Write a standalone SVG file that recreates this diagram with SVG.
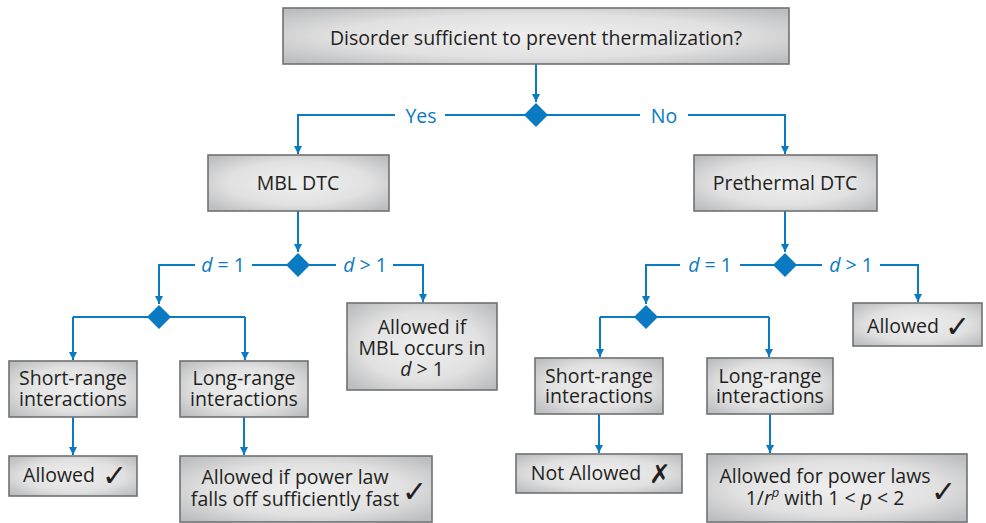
<svg xmlns="http://www.w3.org/2000/svg" width="986" height="523" viewBox="0 0 986 523">
<defs>
<radialGradient id="g" cx="50%" cy="50%" r="65%">
<stop offset="0" stop-color="#efeff0"/>
<stop offset="0.6" stop-color="#e1e1e2"/>
<stop offset="1" stop-color="#bdbebf"/>
</radialGradient>
<marker id="ar" viewBox="0 0 10 10" refX="10" refY="5" markerWidth="8" markerHeight="9" markerUnits="userSpaceOnUse" orient="auto">
<path d="M0,0 L10,5 L0,10 z" fill="#0a7bc2"/>
</marker>
</defs>
<style>
.box{fill:url(#g);stroke:#707172;stroke-width:1.6}
.t{font-family:"Open Sans","Noto Sans",sans-serif;font-size:19.5px;fill:#231f20;text-anchor:middle}
.lb{font-family:"Open Sans","Noto Sans",sans-serif;font-size:19.5px;fill:#0a7bc2;text-anchor:middle}
.ck{font-family:"DejaVu Sans",sans-serif;font-size:30px;fill:#231f20;font-weight:bold}
.x{font-family:"DejaVu Sans",sans-serif;font-size:26px;fill:#231f20;font-weight:bold}
.c{fill:none;stroke:#0a7bc2;stroke-width:2}
.a{marker-end:url(#ar)}
.dm{fill:#0a7bc2}
</style>
<rect width="986" height="523" fill="#ffffff"/>
<g id="connectors">
<path class="c a" d="M536,64 V102"/>
<path class="c a" d="M395,115 H298 V154"/>
<path class="c" d="M445,115 H640"/>
<path class="c a" d="M688,115 H785 V154"/>
<path class="c a" d="M298,211 V252"/>
<path class="c a" d="M195,265 H159 V304"/>
<path class="c" d="M252,265 H336"/>
<path class="c a" d="M393,265 H423 V302"/>
<path class="c" d="M73,317 H245"/>
<path class="c a" d="M73,317 V360"/>
<path class="c a" d="M245,317 V360"/>
<path class="c a" d="M73,417 V455"/>
<path class="c a" d="M244,417 V455"/>
<path class="c a" d="M785,211 V252"/>
<path class="c a" d="M680,265 H646 V304"/>
<path class="c" d="M740,265 H822"/>
<path class="c a" d="M880,265 H918 V302"/>
<path class="c" d="M600,317 H769"/>
<path class="c a" d="M600,317 V357"/>
<path class="c a" d="M769,317 V357"/>
<path class="c a" d="M599,414 V453"/>
<path class="c a" d="M770,414 V453"/>
<text class="lb" x="421" y="123">Yes</text>
<text class="lb" x="664" y="123">No</text>
<text class="lb" x="223" y="272"><tspan font-style="italic">d</tspan> = 1</text>
<text class="lb" x="365" y="272"><tspan font-style="italic">d</tspan> &gt; 1</text>
<text class="lb" x="710" y="272"><tspan font-style="italic">d</tspan> = 1</text>
<text class="lb" x="851" y="272"><tspan font-style="italic">d</tspan> &gt; 1</text>
</g>
<g id="d1"><path class="dm" d="M536,103 L548,115 L536,127 L524,115 z"/></g>
<g id="d2"><path class="dm" d="M298,253 L310,265 L298,277 L286,265 z"/></g>
<g id="d3"><path class="dm" d="M159,305 L171,317 L159,329 L147,317 z"/></g>
<g id="d4"><path class="dm" d="M785,253 L797,265 L785,277 L773,265 z"/></g>
<g id="d5"><path class="dm" d="M646,305 L658,317 L646,329 L634,317 z"/></g>
<g id="top">
<rect class="box" x="283" y="8" width="506" height="56"/>
<text class="t" x="536" y="45">Disorder sufficient to prevent thermalization?</text>
</g>
<g id="mbl">
<rect class="box" x="208" y="155" width="181" height="56"/>
<text class="t" x="298" y="190">MBL DTC</text>
</g>
<g id="pre">
<rect class="box" x="694" y="155" width="183" height="56"/>
<text class="t" x="785" y="190">Prethermal DTC</text>
</g>
<g id="allowedif">
<rect class="box" x="347" y="303" width="150" height="87"/>
<text class="t" x="422" y="334">Allowed if<tspan x="422" dy="21">MBL occurs in</tspan><tspan x="422" dy="21" font-style="italic">d</tspan> &gt; 1</text>
</g>
<g id="sr1">
<rect class="box" x="9" y="361" width="128" height="56"/>
<text class="t" x="73" y="385">Short-range<tspan x="73" dy="21">interactions</tspan></text>
</g>
<g id="lr1">
<rect class="box" x="180" y="361" width="128" height="56"/>
<text class="t" x="244" y="385">Long-range<tspan x="244" dy="21">interactions</tspan></text>
</g>
<g id="al1">
<rect class="box" x="9" y="456" width="128" height="40"/>
<text class="t" x="59" y="482">Allowed</text>
<text class="ck" x="102" y="486">✓</text>
</g>
<g id="al2">
<rect class="box" x="180" y="456" width="252" height="66"/>
<text class="t" x="295" y="484">Allowed if power law<tspan x="295" dy="22">falls off sufficiently fast</tspan></text>
<text class="ck" x="402" y="502">✓</text>
</g>
<g id="al3">
<rect class="box" x="853" y="303" width="129" height="43"/>
<text class="t" x="903" y="333">Allowed</text>
<text class="ck" x="945" y="337">✓</text>
</g>
<g id="sr2">
<rect class="box" x="535" y="358" width="128" height="56"/>
<text class="t" x="599" y="383">Short-range<tspan x="599" dy="20">interactions</tspan></text>
</g>
<g id="lr2">
<rect class="box" x="707" y="358" width="126" height="56"/>
<text class="t" x="770" y="383">Long-range<tspan x="770" dy="20">interactions</tspan></text>
</g>
<g id="na">
<rect class="box" x="516" y="454" width="166" height="39"/>
<text class="t" x="586" y="480">Not Allowed</text>
<text class="x" x="649" y="483">✗</text>
</g>
<g id="al4">
<rect class="box" x="707" y="454" width="260" height="68"/>
<text class="t" x="825" y="483">Allowed for power laws<tspan x="825" dy="22">1/</tspan><tspan font-style="italic">r</tspan><tspan font-style="italic" font-size="13" dy="-8">p</tspan><tspan dy="8"> with 1 &lt; </tspan><tspan font-style="italic">p</tspan> &lt; 2</text>
<text class="ck" x="931" y="502">✓</text>
</g>
</svg>
